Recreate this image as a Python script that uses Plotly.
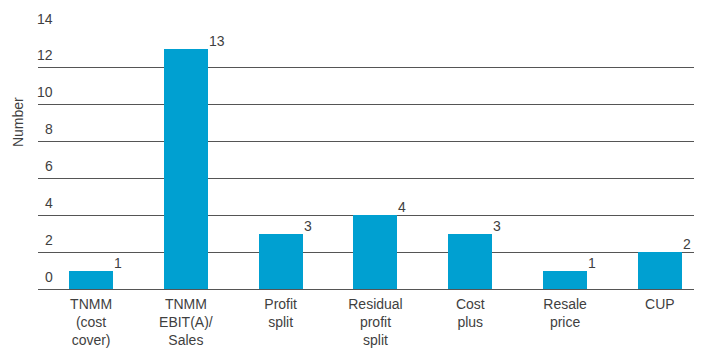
import plotly.graph_objects as go

categories = ["TNMM<br>(cost<br>cover)", "TNMM<br>EBIT(A)/<br>Sales", "Profit<br>split",
              "Residual<br>profit<br>split", "Cost<br>plus", "Resale<br>price", "CUP"]
values = [1, 13, 3, 4, 3, 1, 2]
y_ticks = [0, 2, 4, 6, 8, 10, 12, 14]
y_title = "Number"

FONT = "Liberation Sans, Arial, sans-serif"
TXT = "#3f3f3f"
BAR = "#00a0d1"
BAR_W = 0.464

x_idx = list(range(len(categories)))

fig = go.Figure()
fig.add_trace(go.Bar(x=x_idx, y=values, width=BAR_W, marker=dict(color=BAR, line=dict(width=0)),
                     hoverinfo="skip"))

annotations = []
# value labels at top-right of each bar
for i, v in zip(x_idx, values):
    annotations.append(dict(x=i + BAR_W / 2, y=v, xref="x", yref="y", text=str(v),
                            showarrow=False, xanchor="left", yanchor="middle", yshift=8, xshift=-1,
                            font=dict(family=FONT, size=14, color=TXT)))
# y tick labels above gridlines
for t in y_ticks:
    annotations.append(dict(x=(52 - 38) / 656, y=t, xref="paper", yref="y", text=str(t),
                            showarrow=False, xanchor="right", yanchor="middle", yshift=12.5, xshift=3,
                            font=dict(family=FONT, size=14, color=TXT)))
annotations.append(dict(x=(18 - 38) / 656, y=0.647, xref="paper", yref="paper", text=y_title,
                        textangle=-90, showarrow=False, xanchor="center", yanchor="middle",
                        font=dict(family=FONT, size=14, color=TXT)))

fig.update_layout(
    width=704, height=350,
    margin=dict(l=38, r=10, t=31, b=61),
    paper_bgcolor="white", plot_bgcolor="white",
    showlegend=False,
    font=dict(family=FONT, size=14, color=TXT),
    annotations=annotations,
    xaxis=dict(tickmode="array", tickvals=x_idx, ticktext=categories, range=[-0.56, 6.36],
               showgrid=False, zeroline=False, showline=False, ticks="",
               ticklabelstandoff=5, automargin=False,
               tickfont=dict(family=FONT, size=14, color=TXT)),
    yaxis=dict(range=[0, 14], tickvals=y_ticks, showticklabels=False, showgrid=True,
               gridcolor="#555555", gridwidth=1, zeroline=True, zerolinecolor="#555555",
               zerolinewidth=1, showline=False, ticks="", automargin=False),
    bargap=0,
)

fig.write_html("out.html")
